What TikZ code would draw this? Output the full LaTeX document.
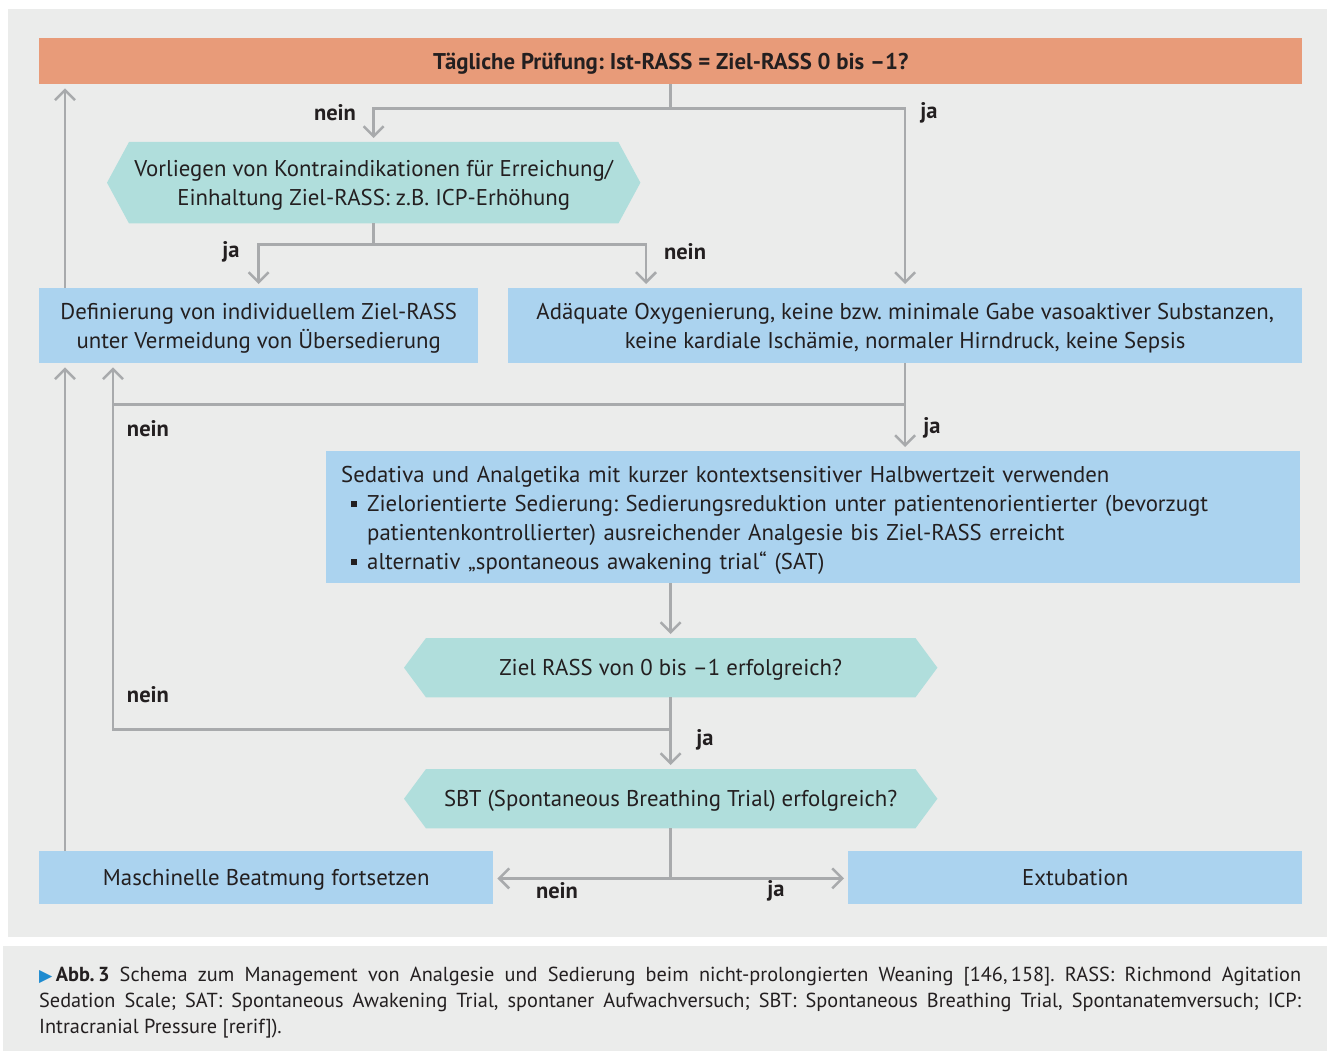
\documentclass[tikz,border=0pt]{standalone}
\usepackage{fontspec}
\setmainfont{PT Sans}
\newfontfamily\dejavu{DejaVu Sans}
\usetikzlibrary{arrows.meta,calc,backgrounds}
\definecolor{panel}{HTML}{EBECEB}
\definecolor{orangec}{HTML}{E89B79}
\definecolor{bluec}{HTML}{ABD3EF}
\definecolor{tealc}{HTML}{B0DEDC}
\definecolor{linec}{HTML}{A8AAAC}
\definecolor{txt}{HTML}{231F20}
\definecolor{abbblue}{HTML}{1E8BD0}
\newcommand\hexfill[1]{\fill[tealc] (#1.west) -- ([xshift=22pt]#1.north west) -- ([xshift=-22pt]#1.north east) -- (#1.east) -- ([xshift=-22pt]#1.south east) -- ([xshift=22pt]#1.south west) -- cycle;}
\newcommand\bul{\makebox[26pt][l]{\hspace{10pt}\raisebox{4pt}{\rule{6pt}{6pt}}}}
\frenchspacing
\begin{document}
\begin{tikzpicture}[x=1pt,y=-1pt,
  every node/.style={text=txt},
  font=\fontsize{22.8}{29}\selectfont,
  box/.style={anchor=north west, fill=bluec, inner sep=0pt, align=center},
  lowtext/.style={text depth=0pt},
  hexn/.style={anchor=north west, inner sep=0pt, align=center, text depth=0pt},
  lbl/.style={font=\fontsize{22.5}{24}\selectfont\bfseries, inner sep=0pt},
  ln/.style={draw=linec, line width=2.5pt},
  arr/.style={ln, -{Straight Barb[length=10pt,width=20pt]}, shorten >=4pt}]
\useasboundingbox (0,0) rectangle (1327,1051);

% nodes
\node[box, fill=orangec, minimum width=1263pt, minimum height=46pt, font=\fontsize{22.8}{29}\selectfont\bfseries] (top) at (39,38) {\raisebox{-8.5pt}[0pt][0pt]{Tägliche Prüfung: Ist-RASS = Ziel-RASS 0 bis –1?}};
\node[hexn, minimum width=533pt, minimum height=81pt] (h1) at (107,142) {Vorliegen von Kontraindikationen für Erreichung/\\Einhaltung Ziel-RASS: z.B. ICP-Erhöhung};
\node[box, lowtext, minimum width=439pt, minimum height=75pt] (def) at (39,288) {Definierung von individuellem Ziel-RASS\\unter Vermeidung von Übersedierung};
\node[box, lowtext, minimum width=794pt, minimum height=75pt] (oxy) at (508,288) {Adäquate Oxygenierung, keine bzw. minimale Gabe vasoaktiver Substanzen,\\keine kardiale Ischämie, normaler Hirndruck, keine Sepsis};
\node[box, minimum width=974pt, minimum height=132pt, text width=944pt, align=left, inner xsep=15pt] (sed) at (326,451) {\rule{0pt}{22pt}Sedativa und Analgetika mit kurzer kontextsensitiver Halbwertzeit verwenden\\
\bul Zielorientierte Sedierung: Sedierungsreduktion unter patientenorientierter (bevorzugt\\
\hspace*{26pt}patientenkontrollierter) ausreichender Analgesie bis Ziel-RASS erreicht\\
\bul alternativ „spontaneous awakening trial“ (SAT)};
\node[hexn, minimum width=533pt, minimum height=59pt] (h2) at (404,638) {Ziel RASS von 0 bis –1 erfolgreich?};
\node[hexn, minimum width=533pt, minimum height=59pt] (h3) at (404,769) {SBT (Spontaneous Breathing Trial) erfolgreich?};
\node[box, lowtext, minimum width=454pt, minimum height=53pt] (mas) at (39,851) {Maschinelle Beatmung fortsetzen};
\node[box, lowtext, minimum width=454pt, minimum height=53pt] (ext) at (848,851) {Extubation};

% connectors
\coordinate (j1) at ([yshift=-24pt]top.south);
\draw[ln] (top.south) -- (j1);
\draw[arr] (j1) -| (h1.north);
\draw[arr] (j1) -| (oxy.north);
\node[lbl] at (335,113) {nein};
\node[lbl] at (929,113) {ja};

\coordinate (j2) at ([yshift=-21pt]h1.south);
\coordinate (oxin) at ([xshift=138pt]oxy.north west);
\draw[ln] (h1.south) -- (j2);
\draw[arr] (j2) -| (def.north);
\draw[arr] (j2) -| (oxin);
\node[lbl] at (231,252) {ja};
\node[lbl] at (685,252) {nein};

\coordinate (dtop) at ([xshift=26pt]def.north west);
\coordinate (dbot) at ([xshift=26pt]def.south west);
\coordinate (mtop) at ([xshift=26pt]mas.north west);
\draw[arr] (dtop) -- (dtop |- top.south);
\draw[arr] (mtop) -- (dbot);

\coordinate (dl) at ([xshift=74pt]def.south west);
\coordinate (j3) at ([yshift=-41pt]oxy.south);
\draw[arr] (oxy.south) -- (oxy.south |- sed.north);
\draw[ln] (j3) -- (j3 -| dl);
\node[lbl] at (932,428) {ja};
\node[lbl] at (148,429) {nein};

\draw[arr] (sed.south -| h2.north) -- (h2.north);
\coordinate (j5) at ([yshift=-32pt]h2.south);
\draw[arr] (h2.south) -- (h3.north);
\draw[arr] (j5) -| (dl);
\node[lbl] at (148,695) {nein};
\node[lbl] at (705,740) {ja};

\coordinate (j6) at ([yshift=-50pt]h3.south);
\draw[ln] (h3.south) -- (j6);
\draw[arr] (j6) -- (j6 -| mas.east);
\draw[arr] (j6) -- (j6 -| ext.west);
\node[lbl] at (557,891) {nein};
\node[lbl] at (776,891) {ja};

% caption
\node[anchor=north west, inner sep=0pt, text width=1262pt, align=justify, font=\fontsize{20.3}{26}\selectfont] (cap) at (39,967) {{\dejavu\color{abbblue}\scalebox{0.85}{▶}}\,\textbf{Abb.\,3}\enspace Schema zum Management von Analgesie und Sedierung beim nicht-prolongierten Weaning [146,\,158]. RASS: Richmond Agitation\linebreak Sedation Scale; SAT: Spontaneous Awakening Trial, spontaner Aufwachversuch; SBT: Spontaneous Breathing Trial, Spontanatemversuch; ICP:\linebreak Intracranial Pressure [rerif]).};

\begin{scope}[on background layer]
\fill[white] (0,0) rectangle (1327,1051);
\fill[panel] (8,9) rectangle (1327,937);
\fill[panel] (3,946) rectangle (1327,1051);
\hexfill{h1}
\hexfill{h2}
\hexfill{h3}
\end{scope}
\end{tikzpicture}
\end{document}
